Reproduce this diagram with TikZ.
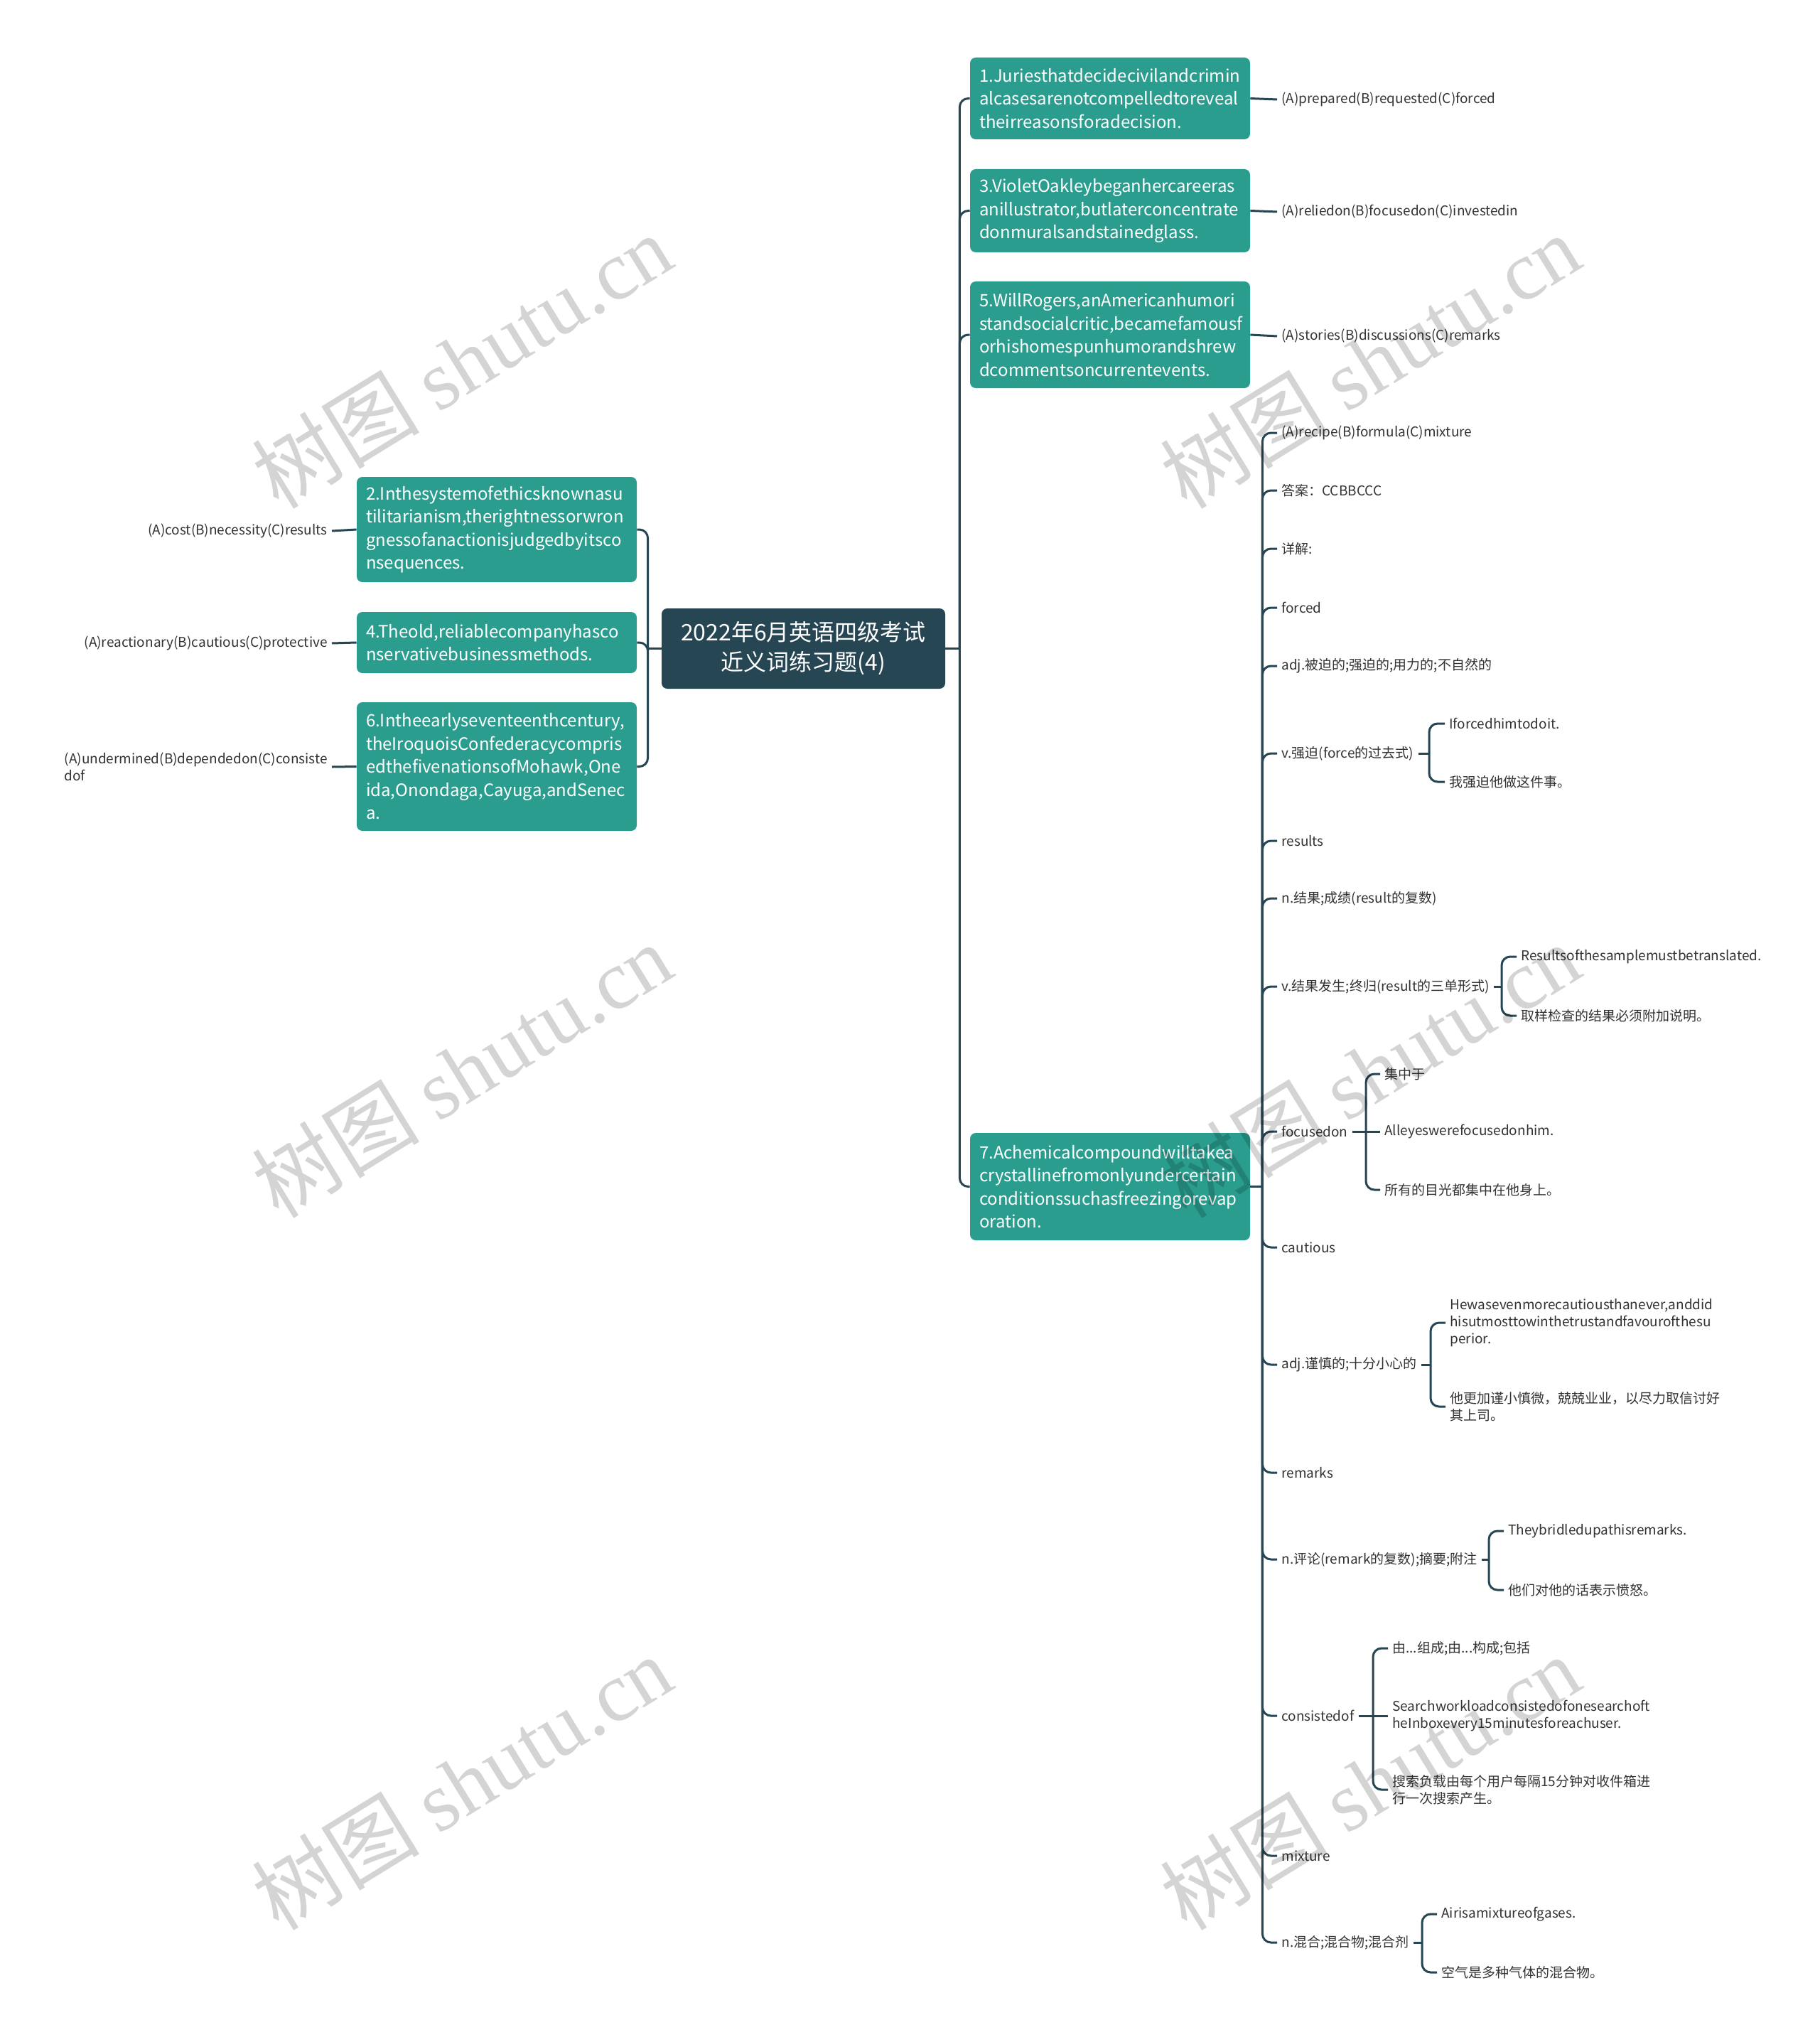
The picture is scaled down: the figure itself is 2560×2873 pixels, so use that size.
\documentclass[tikz,border=0pt]{standalone}
\usepackage{fontspec}
\setmainfont{Noto Sans CJK SC}
\newfontfamily\wmlatin{Liberation Serif}
\definecolor{topicc}{HTML}{264653}
\definecolor{subc}{HTML}{2A9D8F}
\definecolor{linec}{HTML}{264653}
\definecolor{leafc}{HTML}{333333}
\hyphenpenalty=10000
\exhyphenpenalty=10000
\tikzset{
 conn/.style={draw=linec, line width=1.5pt, rounded corners=6pt},
 topicbox/.style={fill=topicc, text=white, rounded corners=4pt, align=center, minimum width=199.5pt, minimum height=56.5pt, font=\fontsize{16}{21}\selectfont},
 subbox/.style={fill=subc, text=white, rounded corners=4pt, align=left, text width=184pt, inner xsep=6.5pt, inner ysep=0pt, font=\fontsize{12}{16.25}\selectfont},
 leaf/.style={text=leafc, align=left, inner xsep=3pt, inner ysep=1pt, font=\fontsize{9.5}{12}\selectfont},
 wm/.style={text=black, opacity=0.17, rotate=31.6, inner sep=0pt, font=\fontsize{59}{59}\selectfont},
}
\begin{document}
\begin{tikzpicture}[x=0.5pt,y=-0.5pt]
\fill[white] (0,0) rectangle (2560,2873);
\useasboundingbox (0,0) rectangle (2560,2873);

% central topic
\node[topicbox] (topic) at (1130.5,912.5) {2022年6月英语四级考试\\近义词练习题(4)};

% right main nodes
\node[subbox, minimum height=57.5pt] (n1) at (1562,138.5) {1.Juriesthatdecidecivilandcrimin\\alcasesarenotcompelledtoreveal\\theirreasonsforadecision.};
\node[subbox, minimum height=58.5pt] (n3) at (1562,296.5) {3.VioletOakleybeganhercareeras\\anillustrator,butlaterconcentrate\\donmuralsandstainedglass.};
\node[subbox, minimum height=75pt] (n5) at (1562,471) {5.WillRogers,anAmericanhumori\\standsocialcritic,becamefamousf\\orhishomespunhumorandshrew\\dcommentsoncurrentevents.};
\node[subbox, minimum height=75.5pt] (n7) at (1562,1669.5) {7.Achemicalcompoundwilltakea\\crystallinefromonlyundercertain\\conditionssuchasfreezingorevap\\oration.};

% left main nodes
\node[subbox, minimum height=74pt] (n2) at (699,745) {2.Inthesystemofethicsknownasu\\tilitarianism,therightnessorwron\\gnessofanactionisjudgedbyitsco\\nsequences.};
\node[subbox, minimum height=43pt] (n4) at (699,904) {4.Theold,reliablecompanyhasco\\nservativebusinessmethods.};
\node[subbox, minimum height=90.5pt] (n6) at (699,1078.5) {6.Intheearlyseventeenthcentury,\\theIroquoisConfederacycompris\\edthefivenationsofMohawk,One\\ida,Onondaga,Cayuga,andSenec\\a.};

% answer leaves
\node[leaf, anchor=west] (a1) at (1797,140) {(A)prepared(B)requested(C)forced};
\node[leaf, anchor=west] (a3) at (1797,298) {(A)reliedon(B)focusedon(C)investedin};
\node[leaf, anchor=west] (a5) at (1797,473) {(A)stories(B)discussions(C)remarks};
\node[leaf, anchor=east] (a2) at (467,747) {(A)cost(B)necessity(C)results};
\node[leaf, anchor=east] (a4) at (467,905) {(A)reactionary(B)cautious(C)protective};
\node[leaf, anchor=east] (a6) at (467,1079) {(A)undermined(B)dependedon(C)consiste\\dof};

% node 7 children
\node[leaf, anchor=west] (k1) at (1797,609) {(A)recipe(B)formula(C)mixture};
\node[leaf, anchor=west] (k2) at (1797,690) {答案：CCBBCCC};
\node[leaf, anchor=west] (k3) at (1797,772) {详解:};
\node[leaf, anchor=west] (k4) at (1797,855) {forced};
\node[leaf, anchor=west] (k5) at (1797,937) {adj.被迫的;强迫的;用力的;不自然的};
\node[leaf, anchor=west] (k6) at (1797,1060) {v.强迫(force的过去式)};
\node[leaf, anchor=west] (k7) at (1797,1183) {results};
\node[leaf, anchor=west] (k8) at (1797,1264) {n.结果;成绩(result的复数)};
\node[leaf, anchor=west] (k9) at (1797,1388) {v.结果发生;终归(result的三单形式)};
\node[leaf, anchor=west] (k10) at (1797,1592) {focusedon};
\node[leaf, anchor=west] (k11) at (1797,1755) {cautious};
\node[leaf, anchor=west] (k12) at (1797,1920) {adj.谨慎的;十分小心的};
\node[leaf, anchor=west] (k13) at (1797,2072) {remarks};
\node[leaf, anchor=west] (k14) at (1797,2194) {n.评论(remark的复数);摘要;附注};
\node[leaf, anchor=west] (k15) at (1797,2414) {consistedof};
\node[leaf, anchor=west] (k16) at (1797,2611) {mixture};
\node[leaf, anchor=west] (k17) at (1797,2733) {n.混合;混合物;混合剂};

% grandchildren
\node[leaf, anchor=west] (k6a) at (2033,1018) {Iforcedhimtodoit.};
\node[leaf, anchor=west] (k6b) at (2033,1100) {我强迫他做这件事。};
\node[leaf, anchor=west] (k9a) at (2134,1346) {Resultsofthesamplemustbetranslated.};
\node[leaf, anchor=west] (k9b) at (2134,1429) {取样检查的结果必须附加说明。};
\node[leaf, anchor=west] (k10a) at (1942,1511) {集中于};
\node[leaf, anchor=west] (k10b) at (1942,1592) {Alleyeswerefocusedonhim.};
\node[leaf, anchor=west] (k10c) at (1942,1674) {所有的目光都集中在他身上。};
\node[leaf, anchor=west] (k12a) at (2034,1861) {Hewasevenmorecautiousthanever,anddid\\hisutmosttowinthetrustandfavourofthesu\\perior.};
\node[leaf, anchor=west] (k12b) at (2034,1979) {他更加谨小慎微，兢兢业业，以尽力取信讨好\\其上司。};
\node[leaf, anchor=west] (k14a) at (2116,2154) {Theybridledupathisremarks.};
\node[leaf, anchor=west] (k14b) at (2116,2237) {他们对他的话表示愤怒。};
\node[leaf, anchor=west] (k15a) at (1953,2319) {由...组成;由...构成;包括};
\node[leaf, anchor=west] (k15b) at (1953,2414) {Searchworkloadconsistedofonesearchoft\\heInboxevery15minutesforeachuser.};
\node[leaf, anchor=west] (k15c) at (1953,2518) {搜索负载由每个用户每隔15分钟对收件箱进\\行一次搜索产生。};
\node[leaf, anchor=west] (k17a) at (2022,2693) {Airisamixtureofgases.};
\node[leaf, anchor=west] (k17b) at (2022,2775) {空气是多种气体的混合物。};

% junction coordinates
\coordinate (jR) at ([xshift=10pt]topic.east);
\coordinate (jL) at ([xshift=-9.5pt]topic.west);
\coordinate (j7) at ([xshift=8.5pt]n7.east);
\coordinate (b6) at (2011,1060);
\coordinate (b9) at (2113,1388);
\coordinate (b10) at (1922,1592);
\coordinate (b12) at (2013,1920);
\coordinate (b14) at (2095,2194);
\coordinate (b15) at (1932,2414);
\coordinate (b17) at (2001,2733);

% connectors
\draw[conn] (topic.east) -- (jR);
\foreach \n in {n1,n3,n5,n7} \draw[conn] (jR) |- (\n.west);
\draw[conn] (topic.west) -- (jL);
\foreach \n in {n2,n4,n6} \draw[conn] (jL) |- (\n.east);
\foreach \n in {1,3,5} \draw[conn] (n\n.east) -- (a\n.west);
\foreach \n in {2,4,6} \draw[conn] (n\n.west) -- (a\n.east);
\draw[conn] (n7.east) -- (j7);
\foreach \k in {k1,k2,k3,k4,k5,k6,k7,k8,k9,k10,k11,k12,k13,k14,k15,k16,k17} \draw[conn] (j7) |- (\k.west);
\draw[conn] (k6.east) -- (b6); \draw[conn] (b6) |- (k6a.west); \draw[conn] (b6) |- (k6b.west);
\draw[conn] (k9.east) -- (b9); \draw[conn] (b9) |- (k9a.west); \draw[conn] (b9) |- (k9b.west);
\draw[conn] (k10.east) -- (b10); \draw[conn] (b10) |- (k10a.west); \draw[conn] (b10) -- (k10b.west); \draw[conn] (b10) |- (k10c.west);
\draw[conn] (k12.east) -- (b12); \draw[conn] (b12) |- (k12a.west); \draw[conn] (b12) |- (k12b.west);
\draw[conn] (k14.east) -- (b14); \draw[conn] (b14) |- (k14a.west); \draw[conn] (b14) |- (k14b.west);
\draw[conn] (k15.east) -- (b15); \draw[conn] (b15) |- (k15a.west); \draw[conn] (b15) -- (k15b.west); \draw[conn] (b15) |- (k15c.west);
\draw[conn] (k17.east) -- (b17); \draw[conn] (b17) |- (k17a.west); \draw[conn] (b17) |- (k17b.west);

% watermarks
\foreach \p/\q in {650/508, 1928/508, 650/1506, 1928/1506, 650/2508, 1928/2508}
  \node[wm] (wm-\p-\q) at (\p,\q) {树图 {\wmlatin shutu.cn}};
\end{tikzpicture}
\end{document}
